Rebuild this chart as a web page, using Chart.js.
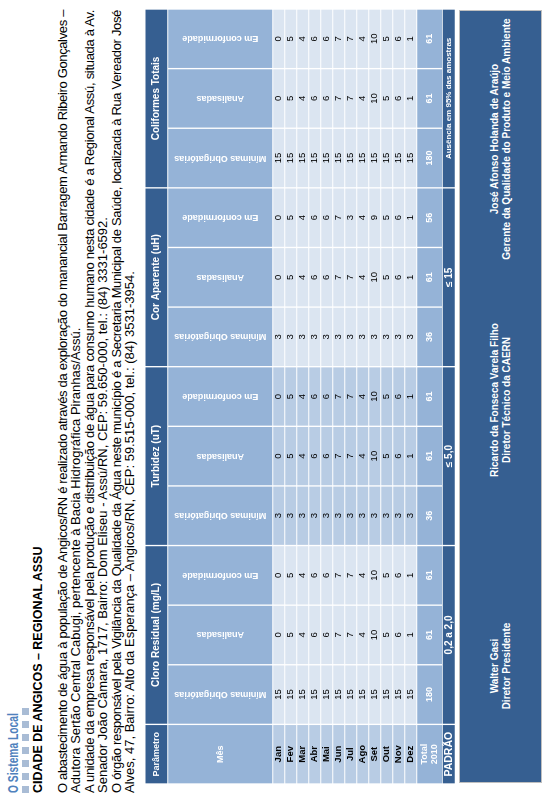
<!DOCTYPE html>
<html lang="pt">
<head>
<meta charset="utf-8">
<script src="https://cdn.jsdelivr.net/npm/chart.js@4.4.0/dist/chart.umd.min.js"></script>
<style>
html, body { margin:0; padding:0; background:#fff; }
body { width:546px; height:797px; overflow:hidden; position:relative; font-family:"Liberation Sans", Arial, sans-serif; }
#pagina { position:absolute; left:0; top:0; width:797px; height:546px; transform-origin:0 0; transform:translateY(797px) rotate(-90deg); }
#sistema { position:absolute; left:4px; top:5px; font-size:15px; line-height:15px; font-weight:bold; color:#4F81BD; white-space:nowrap; }
#quadros { position:absolute; left:4px; top:22px; height:8px; }
#quadros span { float:left; width:7px; height:7px; background:#A9BCD5; margin-right:6px; }
#titulo { position:absolute; left:4px; top:31px; font-size:13px; line-height:13px; font-weight:bold; color:#000; white-space:nowrap; }
#sistema span, #titulo span { display:inline-block; transform-origin:0 50%; }
#texto { position:absolute; left:4px; top:56px; width:783px; font-size:13px; line-height:13.4px; color:#000; }
#texto div { white-space:nowrap; text-align:left; }
#texto div.cheia { text-align:justify; text-align-last:justify; }
#tabela { position:absolute; left:13px; top:145px; }
#assinaturas { position:absolute; left:14px; top:459px; width:771px; height:81px; background:#365F91; border:1px solid #BFBFBF; color:#fff; font-weight:bold; font-size:10px; }
.assin { position:absolute; top:0; height:100%; display:flex; flex-direction:column; justify-content:center; text-align:center; line-height:11.5px; transform:translateX(-50%); white-space:nowrap; }
</style>
</head>
<body>
<div id="pagina">
  <div id="sistema"><span>O Sistema Local</span></div>
  <div id="quadros"><span></span><span></span><span></span><span></span><span></span><span></span><span></span></div>
  <div id="titulo"><span>CIDADE DE ANGICOS – REGIONAL ASSU</span></div>
  <div id="texto">
    <div data-cheia="1"><span>O abastecimento de água à população de Angicos/RN é realizado através da exploração do manancial Barragem Armando Ribeiro Gonçalves –</span></div>
    <div><span>Adutora Sertão Central Cabugi, pertencente à Bacia Hidrográfica Piranhas/Assú.</span></div>
    <div data-cheia="1"><span>A unidade da empresa responsável pela produção e distribuição de água para consumo humano nesta cidade é a Regional Assú, situada à Av.</span></div>
    <div><span>Senador João Câmara, 1717, Bairro: Dom Eliseu - Assú/RN, CEP: 59.650-000, tel.: (84) 3331-6592.</span></div>
    <div data-cheia="1"><span>O órgão responsável pela Vigilância da Qualidade da Água neste município é a Secretaria Municipal de Saúde, localizada à Rua Vereador José</span></div>
    <div><span>Alves, 47, Bairro: Alto da Esperança – Angicos/RN, CEP: 59.515-000, tel.: (84) 3531-3954.</span></div>
  </div>
  <canvas id="tabela" width="775" height="311"></canvas>
  <div id="assinaturas">
    <div class="assin" style="left:116px">Walter Gasi<br>Diretor Presidente</div>
    <div class="assin" style="left:382px">Ricardo da Fonseca Varela Filho<br>Diretor Técnico da CAERN</div>
    <div class="assin" style="left:643px">José Afonso Holanda de Araújo<br>Gerente da Qualidade do Produto e Meio Ambiente</div>
  </div>
</div>

<script>
const meses = ['Jan', 'Fev', 'Mar', 'Abr', 'Mai', 'Jun', 'Jul', 'Ago', 'Set', 'Out', 'Nov', 'Dez'];
const parametros = ['Cloro Residual (mg/L)', 'Turbidez (uT)', 'Cor Aparente (uH)', 'Coliformes Totais'];
const subColunas = ['Mínimas Obrigatórias', 'Analisadas', 'Em conformidade'];

const cloroMinimas = [15, 15, 15, 15, 15, 15, 15, 15, 15, 15, 15, 15];
const cloroAnalisadas = [0, 5, 4, 6, 6, 7, 7, 4, 10, 5, 6, 1];
const cloroConformes = [0, 5, 4, 6, 6, 7, 7, 4, 10, 5, 6, 1];

const turbidezMinimas = [3, 3, 3, 3, 3, 3, 3, 3, 3, 3, 3, 3];
const turbidezAnalisadas = [0, 5, 4, 6, 6, 7, 7, 4, 10, 5, 6, 1];
const turbidezConformes = [0, 5, 4, 6, 6, 7, 7, 4, 10, 5, 6, 1];

const corMinimas = [3, 3, 3, 3, 3, 3, 3, 3, 3, 3, 3, 3];
const corAnalisadas = [0, 5, 4, 6, 6, 7, 7, 4, 10, 5, 6, 1];
const corConformes = [0, 5, 4, 6, 6, 7, 3, 4, 9, 5, 6, 1];

const coliformesMinimas = [15, 15, 15, 15, 15, 15, 15, 15, 15, 15, 15, 15];
const coliformesAnalisadas = [0, 5, 4, 6, 6, 7, 7, 4, 10, 5, 6, 1];
const coliformesConformes = [0, 5, 4, 6, 6, 7, 7, 4, 10, 5, 6, 1];

const totais2010 = [180, 61, 61, 36, 61, 61, 36, 61, 56, 180, 61, 61];
const padroes = ['0,2 a 2,0', '≤ 5,0', '≤ 15', 'Ausência em 95% das amostras'];

// layout (px da tabela, não são dados)
const ALT_CAB = 22.8, ALT_SUB = 105, ALT_MES = 12, ALT_TOTAL = 25.6, ALT_PADRAO = 12.9;
const FOLGA = 1.6;
const LARG_COL = 775 / 13;
const AZUL_ESCURO = '#365F91', AZUL_MEDIO = '#95B3D7', AZUL_CLARO = '#B8CCE4', AZUL_PALIDO = '#DBE5F1';
const FONTE = '"Liberation Sans", Arial, sans-serif';

// ajusta o texto da página à largura da linha
function ajustarLargura(span, largura) {
    var w = span.offsetWidth;
    var n = span.textContent.length;
    if (w > largura) span.style.letterSpacing = ((largura - w) / n) + 'px';
}
document.querySelectorAll('#texto div').forEach(function (linha) {
    if (linha.dataset.cheia) {
        ajustarLargura(linha.firstElementChild, 781);
        linha.className = 'cheia';
    }
});
// títulos em fonte estreita (comprimidos na horizontal)
function estreitar(sel, largura) {
    var s = document.querySelector(sel);
    s.style.transform = 'scaleX(' + (largura / s.offsetWidth) + ')';
}
estreitar('#sistema span', 80);
estreitar('#titulo span', 246);

function faixa(topo, alt) {
    return [topo + FOLGA / 2, topo + alt - FOLGA / 2];
}

var colunasSeries = [
    cloroMinimas, cloroAnalisadas, cloroConformes,
    turbidezMinimas, turbidezAnalisadas, turbidezConformes,
    corMinimas, corAnalisadas, corConformes,
    coliformesMinimas, coliformesAnalisadas, coliformesConformes
];
var rotulosX = ['Mês'];
parametros.forEach(function (p) {
    subColunas.forEach(function (s) { rotulosX.push(p + ' - ' + s); });
});

function vazio() { return new Array(13).fill(null); }

var datasets = [];
var topo = 0;

// linha 1: Parâmetro + grupos
var d = vazio(), t = vazio();
d[0] = faixa(topo, ALT_CAB); t[0] = 'Parâmetro';
datasets.push({ data: d, textos: t, backgroundColor: AZUL_ESCURO, barThickness: LARG_COL - 2,
    fonte: 'bold 9px ' + FONTE, corTexto: '#fff' });
d = vazio(); t = vazio();
parametros.forEach(function (p, k) {
    d[2 + k * 3] = faixa(topo, ALT_CAB);
    t[2 + k * 3] = p;
});
datasets.push({ data: d, textos: t, backgroundColor: AZUL_ESCURO, barThickness: LARG_COL * 3 - 2,
    fonte: 'bold 10px ' + FONTE, corTexto: '#fff' });
topo += ALT_CAB;

// linha 2: sub colunas (texto vertical)
d = []; t = []; var rot = [];
for (var c = 0; c < 13; c++) {
    d.push(faixa(topo, ALT_SUB));
    t.push(c === 0 ? 'Mês' : subColunas[(c - 1) % 3]);
    rot.push(c === 0 ? 0 : -90);
}
datasets.push({ data: d, textos: t, rotacao: rot, backgroundColor: AZUL_MEDIO, barThickness: LARG_COL - 2,
    fonte: 'bold 9px ' + FONTE, corTexto: '#fff' });
topo += ALT_SUB;

// meses
var coresLinha = [AZUL_CLARO, AZUL_PALIDO, AZUL_PALIDO, AZUL_PALIDO, AZUL_CLARO, AZUL_CLARO, AZUL_CLARO,
    AZUL_PALIDO, AZUL_PALIDO, AZUL_PALIDO, AZUL_PALIDO, AZUL_PALIDO, AZUL_PALIDO];
meses.forEach(function (m, i) {
    var dd = [], tt = [m], ff = ['bold 9.5px ' + FONTE];
    for (var c = 0; c < 13; c++) dd.push(faixa(topo, ALT_MES));
    colunasSeries.forEach(function (serie) {
        tt.push(String(serie[i]));
        ff.push('9.5px ' + FONTE);
    });
    datasets.push({ data: dd, textos: tt, fonte: ff, backgroundColor: coresLinha, barThickness: LARG_COL - 2,
        corTexto: '#000' });
    topo += ALT_MES;
});

// total 2010
d = []; t = ['Total\n2010'];
for (var c2 = 0; c2 < 13; c2++) d.push(faixa(topo, ALT_TOTAL));
totais2010.forEach(function (v) { t.push(String(v)); });
datasets.push({ data: d, textos: t, backgroundColor: AZUL_MEDIO, barThickness: LARG_COL - 2,
    fonte: 'bold 9px ' + FONTE, corTexto: '#fff' });
topo += ALT_TOTAL;

// padrão
d = vazio(); t = vazio();
d[0] = faixa(topo, ALT_PADRAO); t[0] = 'PADRÃO';
datasets.push({ data: d, textos: t, backgroundColor: AZUL_ESCURO, barThickness: LARG_COL - 2,
    fonte: 'bold 10.5px ' + FONTE, corTexto: '#fff' });
d = vazio(); t = vazio(); var fp = vazio();
padroes.forEach(function (p, k) {
    d[2 + k * 3] = faixa(topo, ALT_PADRAO);
    t[2 + k * 3] = p;
    fp[2 + k * 3] = (k === 3 ? 'bold 8px ' : 'bold 10px ') + FONTE;
});
datasets.push({ data: d, textos: t, fonte: fp, backgroundColor: AZUL_ESCURO, barThickness: LARG_COL * 3 - 2,
    corTexto: '#fff' });
topo += ALT_PADRAO;

datasets.forEach(function (ds) {
    ds.borderWidth = 0;
    ds.grouped = false;
});

// escreve o texto de cada célula no centro da barra
const textoCelulas = {
    id: 'textoCelulas',
    afterDatasetsDraw: function (chart) {
        var ctx = chart.ctx;
        chart.data.datasets.forEach(function (ds, i) {
            var meta = chart.getDatasetMeta(i);
            meta.data.forEach(function (bar, j) {
                var txt = ds.textos[j];
                if (txt === null || txt === undefined) return;
                var fonte = Array.isArray(ds.fonte) ? ds.fonte[j] : ds.fonte;
                var ang = ds.rotacao ? ds.rotacao[j] : 0;
                ctx.save();
                ctx.translate(bar.x, (bar.y + bar.base) / 2);
                if (ang) ctx.rotate(ang * Math.PI / 180);
                ctx.font = fonte;
                ctx.fillStyle = ds.corTexto;
                ctx.textAlign = 'center';
                ctx.textBaseline = 'middle';
                var linhas = txt.split('\n');
                linhas.forEach(function (l, k) {
                    ctx.fillText(l, 0, (k - (linhas.length - 1) / 2) * 10);
                });
                ctx.restore();
            });
        });
    }
};

new Chart(document.getElementById('tabela'), {
    type: 'bar',
    data: { labels: rotulosX, datasets: datasets },
    options: {
        responsive: false,
        animation: false,
        layout: { padding: 0 },
        plugins: { legend: { display: false }, tooltip: { enabled: false } },
        scales: {
            x: { type: 'category', display: false, offset: true, grid: { display: false } },
            y: { type: 'linear', display: false, min: 0, max: 311, reverse: true }
        }
    },
    plugins: [textoCelulas]
});
</script>
</body>
</html>
